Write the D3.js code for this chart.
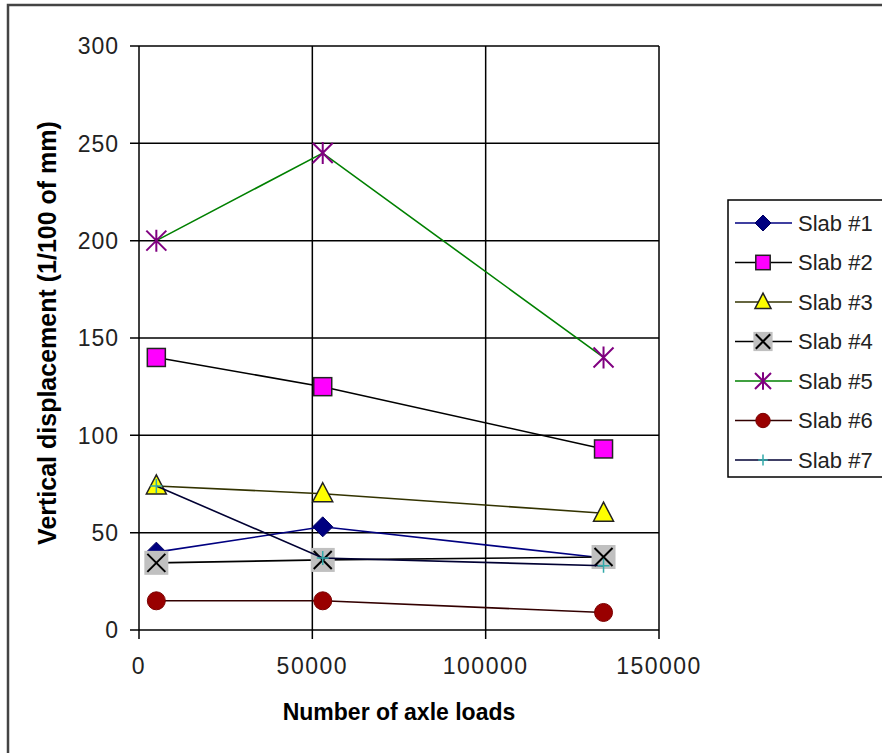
<!DOCTYPE html>
<html>
<head>
<meta charset="utf-8">
<script src="https://cdn.jsdelivr.net/npm/d3@7"></script>
<style>
  body { margin: 0; background: #fff; }
  text { font-family: "Liberation Sans", Arial, sans-serif; }
</style>
</head>
<body>
<script>
// data
const axleLoads = [5000, 53000, 134000];
const slabNames = ["Slab #1", "Slab #2", "Slab #3", "Slab #4", "Slab #5", "Slab #6", "Slab #7"];
const slab1 = [40, 53, 37];
const slab2 = [140, 125, 93];
const slab3 = [74, 70, 60];
const slab4 = [34.5, 36, 37.5];
const slab5 = [200, 245, 140];
const slab6 = [15, 15, 9];
const slab7 = [74, 37, 33];
const yTicks = [0, 50, 100, 150, 200, 250, 300];
const xTicks = [0, 50000, 100000, 150000];

const w = 882;
const h = 753;
const svg = d3.select("body")
  .append("svg")
  .attr("width", w)
  .attr("height", h);

// outer chart border (only left and top show in the window)
svg.append("rect")
  .attr("x", 8).attr("y", 5)
  .attr("width", 900).attr("height", 770)
  .attr("fill", "none")
  .attr("stroke", "#444")
  .attr("stroke-width", 2.5);

const x = d3.scaleLinear().domain([0, 150000]).range([139, 659]);
const y = d3.scaleLinear().domain([0, 300]).range([630, 46]);

// gridlines
svg.selectAll("line.hgrid")
  .data(yTicks)
  .enter()
  .append("line")
  .attr("class", "hgrid")
  .attr("x1", x(0) - 9)
  .attr("x2", x(150000))
  .attr("y1", d => y(d))
  .attr("y2", d => y(d))
  .attr("stroke", "#000")
  .attr("stroke-width", 1.5);

svg.selectAll("line.vgrid")
  .data(xTicks)
  .enter()
  .append("line")
  .attr("class", "vgrid")
  .attr("x1", d => x(d))
  .attr("x2", d => x(d))
  .attr("y1", y(300))
  .attr("y2", y(0) + 9)
  .attr("stroke", "#000")
  .attr("stroke-width", 1.5);

// tick labels
svg.selectAll("text.ylab")
  .data(yTicks)
  .enter()
  .append("text")
  .attr("class", "ylab")
  .attr("x", 119)
  .attr("y", d => y(d))
  .attr("dy", "0.36em")
  .attr("text-anchor", "end")
  .attr("font-size", "23px")
  .attr("letter-spacing", "1px")
  .attr("fill", "#222")
  .text(d => d);

svg.selectAll("text.xlab")
  .data(xTicks)
  .enter()
  .append("text")
  .attr("class", "xlab")
  .attr("x", d => x(d))
  .attr("y", 674)
  .attr("text-anchor", "middle")
  .attr("font-size", "23px")
  .attr("letter-spacing", "1.5px")
  .attr("fill", "#222")
  .text(d => d);

// axis titles
svg.append("text")
  .attr("x", 399)
  .attr("y", 720)
  .attr("text-anchor", "middle")
  .attr("font-size", "23px")
  .attr("font-weight", "bold")
  .text("Number of axle loads");

svg.append("text")
  .attr("transform", "translate(56,333) rotate(-90)")
  .attr("text-anchor", "middle")
  .attr("font-size", "25px")
  .attr("font-weight", "bold")
  .text("Vertical displacement (1/100 of mm)");

// series styles
const series = [
  { name: slabNames[0], values: slab1, line: "#000080", marker: "diamond" },
  { name: slabNames[1], values: slab2, line: "#000000", marker: "square" },
  { name: slabNames[2], values: slab3, line: "#333300", marker: "triangle" },
  { name: slabNames[3], values: slab4, line: "#000000", marker: "xbox" },
  { name: slabNames[4], values: slab5, line: "#008000", marker: "star" },
  { name: slabNames[5], values: slab6, line: "#330000", marker: "circle" },
  { name: slabNames[6], values: slab7, line: "#000033", marker: "plus" }
];

function drawMarker(g, type, s) {
  if (type === "diamond") {
    g.append("path").attr("d", `M0,${-10*s}L${10*s},0L0,${10*s}L${-10*s},0Z`)
      .attr("fill", "#000080").attr("stroke", "#000060");
  } else if (type === "square") {
    g.append("rect").attr("x", -9*s).attr("y", -9*s).attr("width", 18*s).attr("height", 18*s)
      .attr("fill", "#ff00ff").attr("stroke", "#222").attr("stroke-width", 1.5);
  } else if (type === "triangle") {
    g.append("path").attr("d", `M0,${-11*s}L${10*s},${8*s}L${-10*s},${8*s}Z`)
      .attr("fill", "#ffff00").attr("stroke", "#222").attr("stroke-width", 1.5);
  } else if (type === "xbox") {
    g.append("rect").attr("x", -12*s).attr("y", -12*s).attr("width", 24*s).attr("height", 24*s)
      .attr("fill", "#c0c0c0");
    g.append("path").attr("d", `M${-9*s},${-9*s}L${9*s},${9*s}M${9*s},${-9*s}L${-9*s},${9*s}`)
      .attr("stroke", "#000").attr("stroke-width", 2);
  } else if (type === "star") {
    g.append("path").attr("d", `M${-10*s},${-10*s}L${10*s},${10*s}M${10*s},${-10*s}L${-10*s},${10*s}M0,${-11*s}L0,${11*s}`)
      .attr("stroke", "#800080").attr("stroke-width", 2);
  } else if (type === "circle") {
    g.append("circle").attr("r", 9*s).attr("fill", "#990000").attr("stroke", "#7a0000");
  } else if (type === "plus") {
    g.append("path").attr("d", `M${-6*s},0L${6*s},0M0,${-7*s}L0,${7*s}`)
      .attr("stroke", "#33aaaa").attr("stroke-width", 1.5);
  }
}

const line = d3.line()
  .x((d, i) => x(axleLoads[i]))
  .y(d => y(d));

series.forEach(function(sr) {
  svg.append("path")
    .attr("d", line(sr.values))
    .attr("fill", "none")
    .attr("stroke", sr.line)
    .attr("stroke-width", 1.6);
  sr.values.forEach(function(v, i) {
    const g = svg.append("g")
      .attr("transform", `translate(${x(axleLoads[i])},${y(v)})`);
    drawMarker(g, sr.marker, 1);
  });
});

// legend
svg.append("rect")
  .attr("x", 728).attr("y", 200)
  .attr("width", 200).attr("height", 277)
  .attr("fill", "#fff")
  .attr("stroke", "#000")
  .attr("stroke-width", 1.5);

const leg = svg.selectAll("g.leg")
  .data(series)
  .enter()
  .append("g")
  .attr("class", "leg")
  .attr("transform", (d, i) => `translate(0,${223 + i * 39.5})`);

leg.append("line")
  .attr("x1", 735).attr("x2", 792)
  .attr("stroke", d => d.line)
  .attr("stroke-width", 1.6);

leg.each(function(d) {
  const g = d3.select(this).append("g").attr("transform", "translate(763,0)");
  drawMarker(g, d.marker, 0.8);
});

leg.append("text")
  .attr("x", 798)
  .attr("dy", "0.36em")
  .attr("font-size", "22px")
  .attr("fill", "#222")
  .text(d => d.name);
</script>
</body>
</html>
